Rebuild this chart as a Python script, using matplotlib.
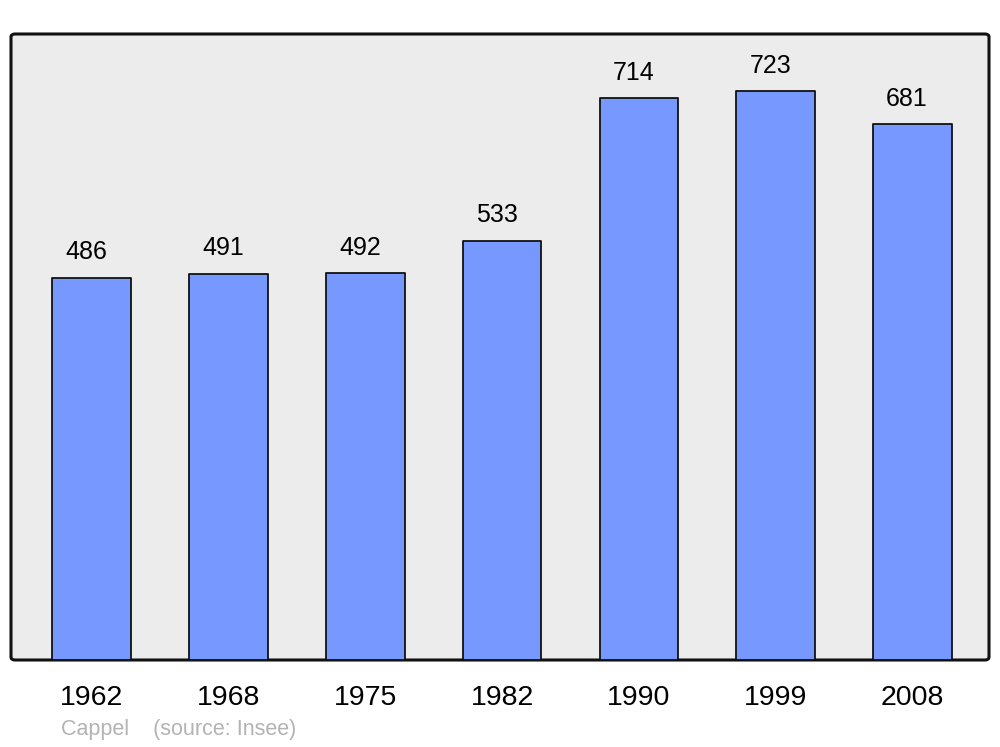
import matplotlib
matplotlib.use("Agg")
import matplotlib.pyplot as plt
from matplotlib.patches import FancyBboxPatch

years = ["1962", "1968", "1975", "1982", "1990", "1999", "2008"]
population = [486, 491, 492, 533, 714, 723, 681]

plt.rcParams["font.family"] = ["Liberation Sans", "DejaVu Sans"]

W, H = 1000, 747
fig = plt.figure(figsize=(W / 100, H / 100), dpi=100)

# axes box in pixels: x 11..989, y 34..660
left, right, top, bottom = 11, 989, 34, 660
ax = fig.add_axes([left / W, (H - bottom) / H, (right - left) / W, (bottom - top) / H])
ax.set_facecolor("none")
ax.set_zorder(2)

frame = FancyBboxPatch((left / W, (H - bottom) / H), (right - left) / W, (bottom - top) / H,
                       boxstyle="round,pad=0,rounding_size=0.004",
                       transform=fig.transFigure, facecolor="#ececec",
                       edgecolor="#111111", linewidth=2.2, zorder=1)
fig.patches.append(frame)

x = list(range(len(years)))
ax.bar(x, population, width=0.575, color="#7799ff", edgecolor="#111111",
       linewidth=1.3, joinstyle="round", zorder=2)

for xi, v in zip(x, population):
    ax.text(xi - 0.04, v + 17, str(v), ha="center", va="bottom", fontsize=18)

ax.set_xlim(-0.59, 6.56)
ax.set_ylim(0, 796)
for s in ax.spines.values():
    s.set_visible(False)
ax.set_yticks([])
ax.set_xticks(x)
ax.set_xticklabels(years, fontsize=20.5)
ax.tick_params(axis="x", length=0, pad=18)

fig.text(61 / W, 1 - 730 / H, "Cappel    (source: Insee)", color="#b3b3b3",
         fontsize=15.5, ha="left", va="center")

fig.savefig("out.png", dpi=100)
